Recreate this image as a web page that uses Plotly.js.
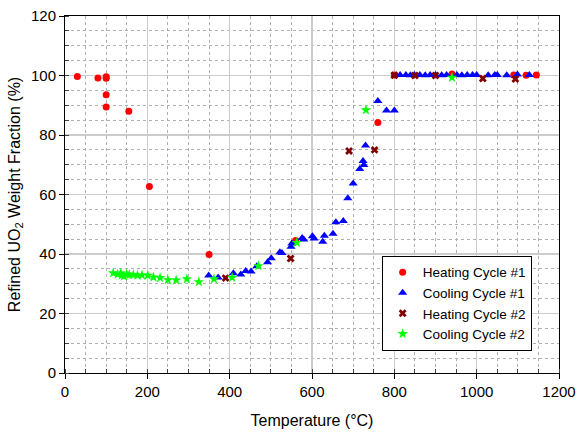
<!DOCTYPE html>
<html>
<head>
<meta charset="utf-8">
<script src="https://cdn.plot.ly/plotly-3.0.1.min.js"></script>
<style>body{margin:0;padding:0;background:#fff}#chart{width:581px;height:435px}</style>
</head>
<body>
<div id="chart"></div>
<script>
// Heating Cycle #1
const heat1T = [30, 80, 100, 100, 100, 100, 155, 205, 350, 560, 760, 800, 940, 1090, 1120, 1145];
const heat1V = [99.7, 99.2, 99.6, 99.1, 93.5, 89.4, 88.0, 62.7, 39.8, 44.5, 84.2, 100.2, 100.5, 100.2, 100.1, 100.2];
// Cooling Cycle #1
const cool1T = [349, 372, 409, 427, 439, 452, 466, 492, 501, 522, 527, 549, 551, 576, 580, 601, 605, 626, 630, 651, 658, 676, 687, 700, 716, 724, 726, 730, 760, 781, 800,
  814, 828, 839, 849, 862, 875, 887, 900, 915, 927, 952, 964, 977, 990, 1000, 1028, 1044, 1050, 1073, 1099, 1128];
const cool1V = [32.8, 32.1, 33.5, 33.1, 34.3, 34.1, 35.9, 37.2, 38.6, 40.6, 40.3, 42.4, 43.5, 45.4, 44.9, 46.0, 45.2, 44.1, 46.1, 46.8, 50.7, 51.1, 58.7, 63.7, 68.6, 71.3, 69.9, 76.5, 91.4, 88.2, 88.2,
  100.2, 100.2, 100.1, 100.2, 100.2, 100.1, 100.2, 100.2, 100.1, 100.2, 100.2, 100.1, 100.2, 100.2, 100.2, 100.1, 100.2, 100.2, 100.1, 100.3, 100.2];
// Heating Cycle #2
const heat2T = [390, 548, 690, 752, 800, 850, 900, 1015, 1094];
const heat2V = [31.9, 38.5, 74.6, 75.0, 100.1, 100.0, 100.0, 99.0, 98.8];
// Cooling Cycle #2
const cool2T = [117, 128, 135, 138, 143, 150, 156, 166, 176, 187, 201, 215, 231, 250, 270, 296, 325, 362, 406, 470, 563, 731, 940];
const cool2V = [33.6, 33.2, 33.5, 32.9, 32.5, 33.2, 33.0, 33.0, 32.8, 32.9, 32.8, 32.2, 32.0, 31.3, 31.2, 31.6, 30.6, 31.6, 32.1, 36.0, 43.8, 88.4, 99.3];

const seriesNames = ['Heating Cycle #1', 'Cooling Cycle #1', 'Heating Cycle #2', 'Cooling Cycle #2'];

const traces = [
  {x: heat1T, y: heat1V, name: seriesNames[0], mode: 'markers', type: 'scatter',
   marker: {symbol: 'circle', size: 7, color: '#ff0000'}},
  {x: cool1T, y: cool1V, name: seriesNames[1], mode: 'markers', type: 'scatter',
   marker: {symbol: 'triangle-up', size: 8, color: '#0000ff'}},
  {x: heat2T, y: heat2V, name: seriesNames[2], mode: 'markers', type: 'scatter',
   marker: {symbol: 'x', size: 7, color: '#800000'}},
  {x: cool2T, y: cool2V, name: seriesNames[3], mode: 'markers', type: 'scatter',
   marker: {symbol: 'star', size: 8, color: '#00ff00'}}
];

const fontFam = 'Liberation Sans, Arial, sans-serif';
const layout = {
  width: 581, height: 435,
  margin: {l: 65, r: 22, t: 16, b: 62},
  paper_bgcolor: '#fff', plot_bgcolor: '#fff',
  font: {family: fontFam, size: 15, color: '#000'},
  showlegend: true,
  legend: {
    x: 0.641, y: 0.328, xanchor: 'left', yanchor: 'top',
    bgcolor: '#fff', bordercolor: '#000', borderwidth: 1,
    font: {family: fontFam, size: 13.5, color: '#000'},
    tracegroupgap: 0
  },
  xaxis: {
    range: [0, 1200], dtick: 200, tick0: 0,
    showline: true, linecolor: '#000', linewidth: 1, mirror: true,
    ticks: 'outside', ticklen: 5, tickcolor: '#000',
    showgrid: true, gridcolor: '#cccccc', gridwidth: 1.5,
    zeroline: false,
    minor: {dtick: 50, ticks: 'inside', ticklen: 4, tickcolor: '#444', showgrid: true, gridcolor: '#b0b0b0', griddash: 'dot', gridwidth: 1},
    title: {text: 'Temperature (°C)', font: {family: fontFam, size: 16}, standoff: 15},
    tickfont: {family: fontFam, size: 15}
  },
  yaxis: {
    range: [0, 120], dtick: 20, tick0: 0,
    showline: true, linecolor: '#000', linewidth: 1, mirror: true,
    ticks: 'outside', ticklen: 5, tickcolor: '#000',
    showgrid: true, gridcolor: '#cccccc', gridwidth: 1.5,
    zeroline: false,
    minor: {dtick: 5, ticks: 'inside', ticklen: 4, tickcolor: '#444', showgrid: true, gridcolor: '#b0b0b0', griddash: 'dot', gridwidth: 1},
    title: {text: 'Refined UO<sub>2</sub> Weight Fraction (%)', font: {family: fontFam, size: 16}, standoff: 6},
    tickfont: {family: fontFam, size: 15}
  }
};

Plotly.newPlot('chart', traces, layout, {displayModeBar: false, staticPlot: true});
</script>
</body>
</html>
